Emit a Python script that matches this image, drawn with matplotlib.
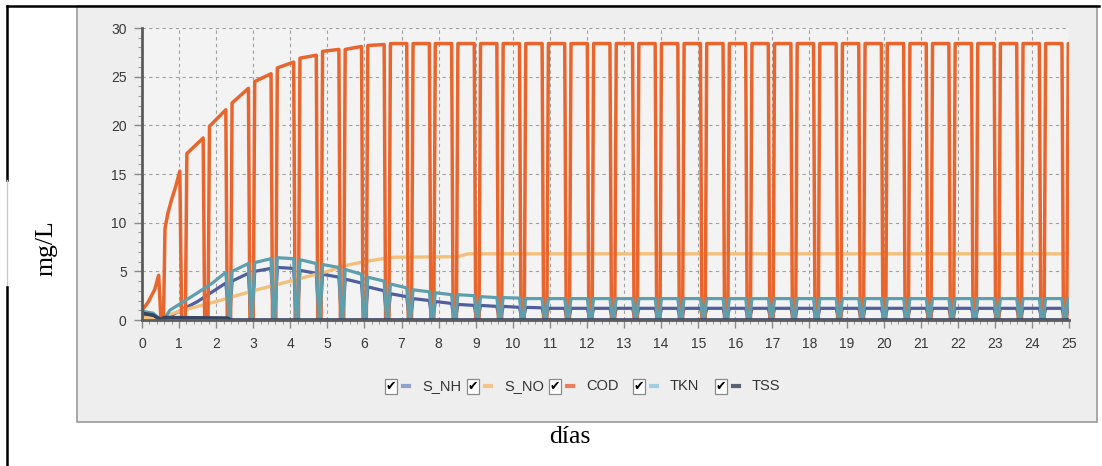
import matplotlib
matplotlib.use("Agg")
import matplotlib.pyplot as plt
from matplotlib.patches import Rectangle
from matplotlib.lines import Line2D
from matplotlib.ticker import MultipleLocator

# ---------------- data ----------------
x_ticks = list(range(0, 26))
y_ticks = [0, 5, 10, 15, 20, 25, 30]
series_names = ["S_NH", "S_NO", "COD", "TKN", "TSS"]
x_label = "días"
y_label = "mg/L"

# start-up phase (days, mg/L)
cod_startup_days = [0.0, 0.16, 0.34, 0.45, 0.51, 0.58, 0.62, 0.70, 0.80, 0.90, 1.02, 1.07]
cod_startup_vals = [1.0, 1.8, 3.1, 4.6, 0.0, 0.0, 9.4, 11.0, 12.4, 13.6, 15.3, 0.0]

tkn_startup_days = [0.0, 0.30, 0.50, 0.60, 0.75, 1.00, 1.50, 1.90, 2.26]
tkn_startup_vals = [0.9, 0.7, 0.05, 0.1, 1.0, 1.6, 2.8, 3.8, 4.9]
snh_startup_days = [0.0, 0.30, 0.50, 0.60, 0.75, 1.00, 1.50, 1.90, 2.26]
snh_startup_vals = [0.6, 0.45, 0.05, 0.05, 0.4, 0.9, 1.9, 2.9, 3.8]

# reactor cycles: fill (rise) and draw (drop) days
cycle_start_day = [1.21, 1.82, 2.43, 3.04, 3.65, 4.26, 4.87, 5.48, 6.09, 6.70,
                   7.31, 7.91, 8.52, 9.13, 9.74, 10.35, 10.96, 11.57, 12.18, 12.79,
                   13.40, 14.01, 14.62, 15.23, 15.84, 16.45, 17.06, 17.67, 18.28, 18.89,
                   19.50, 20.10, 20.71, 21.32, 21.93, 22.54, 23.15, 23.76, 24.37, 24.98]
cycle_end_day = [1.65, 2.26, 2.87, 3.48, 4.09, 4.70, 5.31, 5.92, 6.53, 7.14,
                 7.75, 8.35, 8.96, 9.57, 10.18, 10.79, 11.40, 12.01, 12.62, 13.23,
                 13.84, 14.45, 15.06, 15.67, 16.28, 16.89, 17.50, 18.11, 18.72, 19.33,
                 19.94, 20.54, 21.15, 21.76, 22.37, 22.98, 23.59, 24.20, 24.81, 25.42]

cod_cycle_start = [17.1, 19.9, 22.3, 24.5, 25.9, 26.9, 27.6, 27.8, 28.2, 28.4,
                   28.4, 28.4, 28.4, 28.4, 28.4, 28.4, 28.4, 28.4, 28.4, 28.4,
                   28.4, 28.4, 28.4, 28.4, 28.4, 28.4, 28.4, 28.4, 28.4, 28.4,
                   28.4, 28.4, 28.4, 28.4, 28.4, 28.4, 28.4, 28.4, 28.4, 28.4]
cod_cycle_end = [18.7, 21.6, 23.8, 25.3, 26.5, 27.2, 27.8, 28.1, 28.3, 28.4,
                 28.4, 28.4, 28.4, 28.4, 28.4, 28.4, 28.4, 28.4, 28.4, 28.4,
                 28.4, 28.4, 28.4, 28.4, 28.4, 28.4, 28.4, 28.4, 28.4, 28.4,
                 28.4, 28.4, 28.4, 28.4, 28.4, 28.4, 28.4, 28.4, 28.4, 28.4]

# TKN and S_NH cycles (from the third cycle on)
tkn_cycle_start = [5.0, 5.9, 6.4, 6.2, 5.7, 5.2, 4.4, 3.7, 3.1, 2.8,
                   2.6, 2.4, 2.3, 2.2, 2.2, 2.2, 2.2, 2.2, 2.2, 2.2,
                   2.2, 2.2, 2.2, 2.2, 2.2, 2.2, 2.2, 2.2, 2.2, 2.2,
                   2.2, 2.2, 2.2, 2.2, 2.2, 2.2, 2.2, 2.2]
tkn_cycle_end = [5.8, 6.3, 6.3, 5.8, 5.4, 4.7, 4.0, 3.3, 2.9, 2.6,
                 2.5, 2.3, 2.25, 2.2, 2.2, 2.2, 2.2, 2.2, 2.2, 2.2,
                 2.2, 2.2, 2.2, 2.2, 2.2, 2.2, 2.2, 2.2, 2.2, 2.2,
                 2.2, 2.2, 2.2, 2.2, 2.2, 2.2, 2.2, 2.2]
snh_cycle_start = [4.0, 5.0, 5.4, 5.1, 4.7, 4.2, 3.4, 2.7, 2.2, 1.9,
                   1.6, 1.5, 1.4, 1.3, 1.2, 1.2, 1.2, 1.2, 1.2, 1.2,
                   1.2, 1.2, 1.2, 1.2, 1.2, 1.2, 1.2, 1.2, 1.2, 1.2,
                   1.2, 1.2, 1.2, 1.2, 1.2, 1.2, 1.2, 1.2]
snh_cycle_end = [4.8, 5.3, 5.3, 4.8, 4.4, 3.8, 3.0, 2.4, 2.0, 1.7,
                 1.5, 1.4, 1.3, 1.25, 1.2, 1.2, 1.2, 1.2, 1.2, 1.2,
                 1.2, 1.2, 1.2, 1.2, 1.2, 1.2, 1.2, 1.2, 1.2, 1.2,
                 1.2, 1.2, 1.2, 1.2, 1.2, 1.2, 1.2, 1.2]

sno_days = [0.0, 0.45, 0.55, 0.70, 1.0, 2.0, 3.0, 4.0, 5.0, 5.5, 6.0, 6.5, 6.8, 8.5, 8.8, 25.0]
sno_vals = [0.3, 0.1, 0.0, 0.5, 0.9, 1.9, 3.0, 4.0, 5.0, 5.6, 6.0, 6.3, 6.45, 6.5, 6.8, 6.8]

tss_days = [0.0, 0.30, 0.50, 0.60, 2.30, 2.40, 25.0]
tss_vals = [0.7, 0.5, 0.05, 0.25, 0.2, 0.0, 0.0]

# ---------------- styling ----------------
line_colors = {"S_NH": "#4f5f9e", "S_NO": "#f3c07c", "COD": "#e8662e",
               "TKN": "#5e9fae", "TSS": "#384560"}
legend_colors = {"S_NH": "#8ea2cc", "S_NO": "#f5c488", "COD": "#f07a5c",
                 "TKN": "#a2cde2", "TSS": "#5a6474"}

W, H = 1102, 466
fig = plt.figure(figsize=(W / 100, H / 100), dpi=100)
fig.patch.set_facecolor("white")


def fx(px):
    return px / W


def fy(py):
    return 1 - py / H


def cycle_polyline(starts, ends, v_start, v_end, ramp):
    xs, ys = [], []
    for s, e, a, b in zip(starts, ends, v_start, v_end):
        xs += [s - ramp, s, e, e + ramp]
        ys += [0.0, a, b, 0.0]
    return xs, ys


# chart panel
fig.add_artist(Rectangle((fx(77), fy(422)), fx(1097) - fx(77), fy(6) - fy(422),
                         transform=fig.transFigure, facecolor="#eeeeee",
                         edgecolor="#9a9a9a", lw=1.2, zorder=0))
# document table borders
fig.add_artist(Line2D([fx(7), fx(1099)], [fy(6), fy(6)], color="black", lw=1.8, zorder=1))
fig.add_artist(Line2D([fx(7), fx(7)], [fy(6), fy(180)], color="black", lw=1.8, zorder=1))
fig.add_artist(Line2D([fx(7), fx(7)], [fy(180), fy(287)], color="#c8c8c8", lw=1.0, zorder=1))
fig.add_artist(Line2D([fx(7), fx(7)], [fy(287), fy(466)], color="black", lw=1.8, zorder=1))

ax = fig.add_axes([fx(142), fy(320), fx(1069) - fx(142), fy(28) - fy(320)])
ax.set_facecolor("#f3f3f3")
ax.set_xlim(0, 25)
ax.set_ylim(0, 30)
ax.set_xticks(x_ticks)
ax.set_yticks(y_ticks)
ax.xaxis.set_minor_locator(MultipleLocator(0.2))
ax.yaxis.set_minor_locator(MultipleLocator(1))
ax.grid(True, which="major", color="#a0a0a0", linestyle=(0, (3, 3)), lw=0.8)
ax.set_axisbelow(True)
for s in ("top", "right"):
    ax.spines[s].set_visible(False)
for s in ("left", "bottom"):
    ax.spines[s].set_color("#5c5c5c")
    ax.spines[s].set_linewidth(2.0)
    ax.spines[s].set_zorder(6)
ax.tick_params(which="major", direction="out", length=6, width=1, color="#8a8a8a",
               labelsize=10, labelcolor="#383838")
ax.tick_params(which="minor", direction="out", length=3, width=0.8, color="#9a9a9a")
ax.tick_params(axis="x", which="major", pad=6)
ax.tick_params(axis="y", which="major", pad=5)
for lab in ax.get_xticklabels() + ax.get_yticklabels():
    lab.set_fontfamily("Liberation Sans")

# S_NH
sx, sy = cycle_polyline(cycle_start_day[2:], cycle_end_day[2:],
                        snh_cycle_start, snh_cycle_end, 0.07)
ax.plot(snh_startup_days + sx, snh_startup_vals + sy, color=line_colors["S_NH"],
        lw=2.3, zorder=2, solid_joinstyle="round")
# S_NO
ax.plot(sno_days, sno_vals, color=line_colors["S_NO"], lw=2.4, zorder=2.5)
# COD
cx, cy = cycle_polyline(cycle_start_day, cycle_end_day, cod_cycle_start, cod_cycle_end, 0.04)
ax.plot(cod_startup_days + cx, cod_startup_vals + cy, color=line_colors["COD"],
        lw=2.5, zorder=3, solid_joinstyle="round")
# TKN
tx, ty = cycle_polyline(cycle_start_day[2:], cycle_end_day[2:],
                        tkn_cycle_start, tkn_cycle_end, 0.07)
ax.plot(tkn_startup_days + tx, tkn_startup_vals + ty, color=line_colors["TKN"],
        lw=2.3, zorder=4, solid_joinstyle="round")
# TSS
ax.plot(tss_days, tss_vals, color=line_colors["TSS"], lw=2.6, zorder=5)

# axis titles (document text)
fig.text(fx(570), fy(437), x_label, family="Liberation Serif", fontsize=18.5,
         ha="center", va="center", color="black")
fig.text(fx(47), fy(248), y_label, family="Liberation Serif", fontsize=18.5,
         ha="center", va="center", rotation=90, color="black")

# legend with checkboxes
box_left = [385, 467, 549, 633, 715]
for name, bx in zip(series_names, box_left):
    fig.add_artist(Rectangle((fx(bx), fy(394)), fx(12), 15 / H, transform=fig.transFigure,
                             facecolor="white", edgecolor="#8a8a8a", lw=0.9, zorder=3))
    fig.text(fx(bx + 6), fy(386.5), "\u2714", family="DejaVu Sans", fontsize=9,
             ha="center", va="center", color="black", zorder=4)
    fig.add_artist(Line2D([fx(bx + 18), fx(bx + 24)], [fy(386), fy(386)],
                          color=legend_colors[name], lw=3, zorder=3,
                          transform=fig.transFigure))
    fig.text(fx(bx + 37), fy(386), name, family="Liberation Sans", fontsize=10.5,
             ha="left", va="center", color="#333333")

fig.savefig("out.png", dpi=100, facecolor="white")
